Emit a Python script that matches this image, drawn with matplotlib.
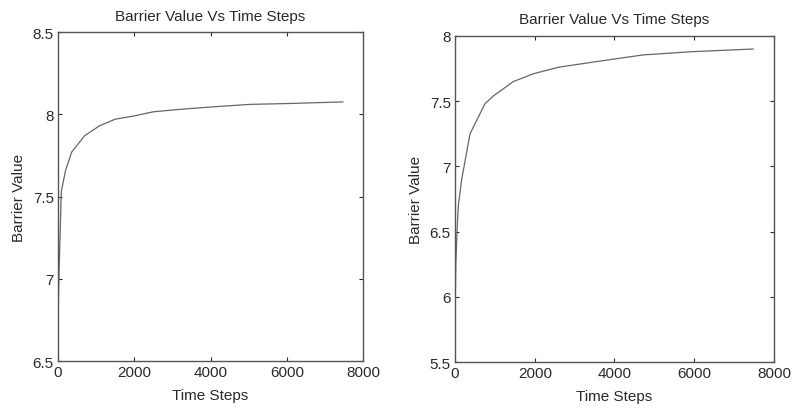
import matplotlib
matplotlib.use("Agg")
import matplotlib.pyplot as plt

# left panel: barrier value vs time steps
steps_a = [0, 10, 26, 60, 87, 200, 360, 700, 1090, 1500, 2000, 2500, 3200, 4065, 5025, 6000, 7470]
barrier_a = [6.67, 6.85, 7.02, 7.30, 7.53, 7.66, 7.77, 7.87, 7.93, 7.97, 7.99, 8.015, 8.03, 8.045, 8.06, 8.065, 8.075]

# right panel
steps_b = [0, 20, 50, 83, 167, 376, 750, 960, 1460, 1960, 2590, 3465, 4720, 5970, 7475]
barrier_b = [5.86, 6.25, 6.50, 6.70, 6.90, 7.25, 7.48, 7.54, 7.65, 7.71, 7.76, 7.80, 7.855, 7.88, 7.90]

ink = "#2a2a2a"
plt.rcParams['font.family'] = ['Liberation Sans', 'DejaVu Sans']

fig = plt.figure(figsize=(7.93, 4.10), dpi=100)
ax1 = fig.add_axes([0.0731, 0.117, 0.3847, 0.8025])
ax2 = fig.add_axes([0.5738, 0.1146, 0.4022, 0.7952])

panels = [
    (ax1, steps_a, barrier_a, (6.5, 8.5), [6.5, 7, 7.5, 8, 8.5], ["6.5", "7", "7.5", "8", "8.5"]),
    (ax2, steps_b, barrier_b, (5.5, 8), [5.5, 6, 6.5, 7, 7.5, 8], ["5.5", "6", "6.5", "7", "7.5", "8"]),
]

for ax, xs, ys, ylim, yt, ytl in panels:
    ax.plot(xs, ys, color="#666666", lw=0.9)
    ax.set_xlim(0, 8000)
    ax.set_ylim(*ylim)
    ax.set_xticks([0, 2000, 4000, 6000, 8000])
    ax.set_xticklabels(["0", "2000", "4000", "6000", "8000"])
    ax.set_yticks(yt)
    ax.set_yticklabels(ytl)
    ax.tick_params(direction="in", top=True, right=True, length=3, width=0.8,
                   colors=ink, labelsize=11, pad=3)
    for s in ax.spines.values():
        s.set_color("#555555")
        s.set_linewidth(1.0)
    ax.set_title("Barrier Value Vs Time Steps", color=ink, fontsize=11, pad=9)
    ax.set_xlabel("Time Steps", color=ink, fontsize=11, labelpad=6)
    ax.set_ylabel("Barrier Value", color=ink, fontsize=11, labelpad=5)

fig.savefig("out.png", dpi=100, facecolor="white")
